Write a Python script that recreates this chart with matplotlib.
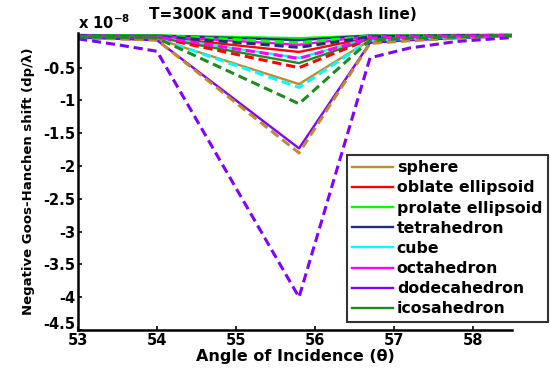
import numpy as np
import matplotlib
matplotlib.use('Agg')
import matplotlib.pyplot as plt
import matplotlib.transforms as mtransforms

plt.rcParams['font.family'] = ['DejaVu Sans']
plt.rcParams['font.weight'] = 'bold'

# angle of incidence (deg)
angle = [53, 53.5, 54, 55.8, 56.7, 57.2, 57.8, 58.5]

shapes = ['sphere', 'oblate ellipsoid', 'prolate ellipsoid', 'tetrahedron',
          'cube', 'octahedron', 'dodecahedron', 'icosahedron']
colors = ['#C08A30', '#FF0000', '#00FF00', '#1F2F7F',
          '#00FFFF', '#FF00FF', '#7F00FF', '#1F8A1F']

# shift in units of 1e-8, T = 300K (solid)
t300 = {
    'sphere':            [-0.04, -0.05, -0.06, -0.75, -0.08, -0.05, -0.03, -0.02],
    'oblate ellipsoid':  [-0.02, -0.03, -0.03, -0.26, -0.04, -0.03, -0.02, -0.01],
    'prolate ellipsoid': [-0.00, -0.01, -0.01, -0.05, -0.01, -0.01, -0.00, -0.00],
    'tetrahedron':       [-0.01, -0.01, -0.01, -0.08, -0.01, -0.01, -0.01, -0.00],
    'cube':              [-0.02, -0.03, -0.03, -0.35, -0.05, -0.03, -0.02, -0.01],
    'octahedron':        [-0.01, -0.01, -0.02, -0.15, -0.02, -0.01, -0.01, -0.01],
    'dodecahedron':      [-0.04, -0.06, -0.08, -1.73, -0.12, -0.08, -0.05, -0.02],
    'icosahedron':       [-0.03, -0.03, -0.04, -0.43, -0.06, -0.04, -0.02, -0.01],
}

# shift in units of 1e-8, T = 900K (dashed)
t900 = {
    'sphere':            [-0.05, -0.06, -0.08, -1.80, -0.13, -0.09, -0.05, -0.02],
    'oblate ellipsoid':  [-0.02, -0.03, -0.04, -0.50, -0.06, -0.04, -0.02, -0.01],
    'prolate ellipsoid': [-0.01, -0.01, -0.01, -0.12, -0.02, -0.01, -0.01, -0.00],
    'tetrahedron':       [-0.01, -0.02, -0.02, -0.19, -0.03, -0.02, -0.01, -0.01],
    'cube':              [-0.03, -0.04, -0.05, -0.80, -0.08, -0.05, -0.03, -0.02],
    'octahedron':        [-0.02, -0.03, -0.03, -0.36, -0.05, -0.03, -0.02, -0.01],
    'dodecahedron':      [-0.06, -0.15, -0.25, -4.00, -0.35, -0.20, -0.10, -0.04],
    'icosahedron':       [-0.03, -0.04, -0.05, -1.05, -0.08, -0.05, -0.03, -0.01],
}

fig = plt.figure(figsize=(5.5, 3.7), dpi=100)
ax = fig.add_axes([0.142, 0.108, 0.789, 0.803])

for s, c in zip(shapes, colors):
    ax.plot(angle, t300[s], color=c, lw=1.7, label=s)
for s, c in zip(shapes, colors):
    ax.plot(angle, t900[s], color=c, lw=2.2, ls=(0, (3, 1.6)))

ax.set_xlim(53, 58.5)
ax.set_ylim(-4.5, 0.03)
ax.set_xticks([53, 54, 55, 56, 57, 58])
ax.set_yticks([-4.5, -4, -3.5, -3, -2.5, -2, -1.5, -1, -0.5])
ax.set_yticklabels(['-4.5', '-4', '-3.5', '-3', '-2.5', '-2', '-1.5', '-1', '-0.5'])
ax.tick_params(direction='in', length=3, width=1.2, labelsize=10.5)
ax.tick_params(axis='x', pad=2)
ax.tick_params(axis='y', pad=2)
for t in ax.get_xticklabels() + ax.get_yticklabels():
    t.set_fontweight('bold')
# lift the -4.5 label a little so it clears the 53 label
lab = ax.get_yticklabels()[0]
lab.set_transform(lab.get_transform() + mtransforms.ScaledTranslation(0, 5 / 72, fig.dpi_scale_trans))

ax.spines['top'].set_visible(False)
ax.spines['right'].set_visible(False)
ax.spines['left'].set_linewidth(1.8)
ax.spines['bottom'].set_linewidth(1.8)

ax.set_xlabel('Angle of Incidence (\u03b8)', fontsize=11.5, fontweight='bold', labelpad=1)
ax.set_ylabel('Negative Goos-Hanchen shift (dp/\u03bb)', fontsize=9.5, fontweight='bold', labelpad=6)

fig.text(0.515, 0.962, 'T=300K and T=900K(dash line)', ha='center', va='center',
         fontsize=11, fontweight='bold')
fig.text(0.142, 0.94, 'x 10$^{\\mathbf{-8}}$', ha='left', va='center',
         fontsize=10.5, fontweight='bold')

leg = fig.legend(loc='lower right', bbox_to_anchor=(0.996, 0.13),
                 handlelength=2.6, handletextpad=0.25, labelspacing=0.33,
                 borderpad=0.35, borderaxespad=0, frameon=True, fancybox=False,
                 prop={'weight': 'bold', 'size': 11.3})
leg.get_frame().set_edgecolor('black')
leg.get_frame().set_linewidth(1.5)

fig.savefig('out.png', dpi=100)
